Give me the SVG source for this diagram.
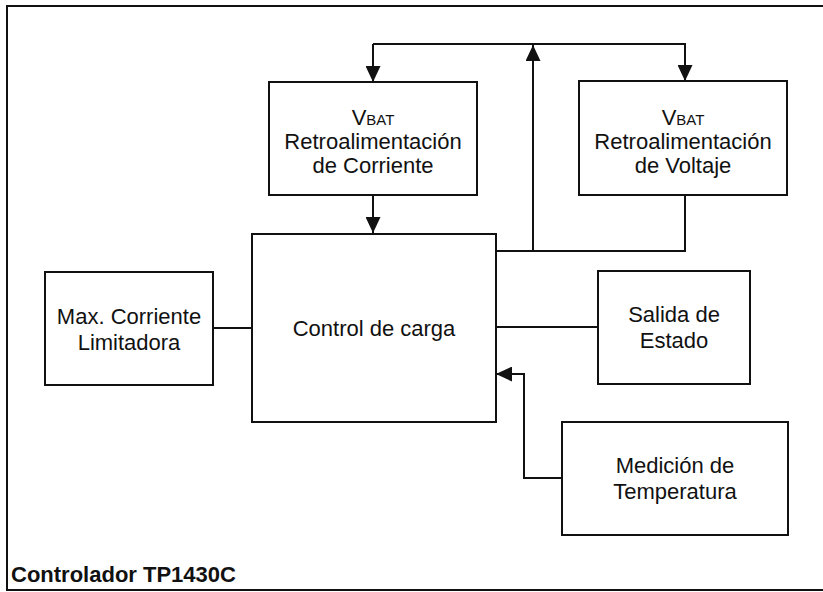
<svg xmlns="http://www.w3.org/2000/svg" width="823" height="592" viewBox="0 0 823 592">
  <style>
    .box { fill: #ffffff; stroke: #111111; stroke-width: 2; }
    .wire { fill: none; stroke: #111111; stroke-width: 2; }
    .lbl { font-family: "Liberation Sans", Arial, sans-serif; font-size: 22px; fill: #111111; text-anchor: middle; }
    .sc { font-size: 15px; }
    .title { font-family: "Liberation Sans", Arial, sans-serif; font-size: 22px; font-weight: bold; fill: #111111; }
  </style>
  <defs>
    <marker id="arrowLg" viewBox="0 0 10 10" refX="10" refY="5" markerWidth="16" markerHeight="15" markerUnits="userSpaceOnUse" orient="auto" preserveAspectRatio="none">
      <path d="M0,0 L10,5 L0,10 z" fill="#111111"/>
    </marker>
  </defs>

  <rect x="0" y="0" width="823" height="592" fill="#ffffff"/>

  <!-- outer frame (right edge runs past the canvas) -->
  <g id="frame">
    <rect x="7" y="6" width="830" height="584" class="wire" stroke-width="2.5"/>
    <text class="title" x="11" y="582">Controlador TP1430C</text>
  </g>

  <!-- connectors -->
  <g id="connectors">
    <!-- feedback bus from charge control to both feedback blocks -->
    <polyline class="wire" points="496,251 685,251 685,195"/>
    <line class="wire" x1="533" y1="251" x2="533" y2="45" marker-end="url(#arrowLg)"/>
    <polyline class="wire" points="373,44 685,44 685,81" marker-end="url(#arrowLg)"/>
    <line class="wire" x1="373" y1="44" x2="373" y2="82" marker-end="url(#arrowLg)"/>
    <!-- current feedback into charge control -->
    <line class="wire" x1="373" y1="195" x2="373" y2="233" marker-end="url(#arrowLg)"/>
    <!-- current limit -->
    <line class="wire" x1="213" y1="328" x2="252" y2="328"/>
    <!-- status output -->
    <line class="wire" x1="496" y1="327" x2="598" y2="327"/>
    <!-- temperature measurement -->
    <polyline class="wire" points="562,478 524,478 524,374 496,374" marker-end="url(#arrowLg)"/>
  </g>

  <g id="vbat-corriente">
    <rect class="box" x="269" y="82" width="208" height="113"/>
    <text class="lbl" x="373" y="125">V<tspan class="sc">BAT</tspan></text>
    <text class="lbl" x="373" y="149">Retroalimentación</text>
    <text class="lbl" x="373" y="173">de Corriente</text>
  </g>

  <g id="vbat-voltaje">
    <rect class="box" x="579" y="81" width="208" height="114"/>
    <text class="lbl" x="683" y="125">V<tspan class="sc">BAT</tspan></text>
    <text class="lbl" x="683" y="149">Retroalimentación</text>
    <text class="lbl" x="683" y="173">de Voltaje</text>
  </g>

  <g id="control-carga">
    <rect class="box" x="252" y="234" width="244" height="188"/>
    <text class="lbl" x="374" y="336">Control de carga</text>
  </g>

  <g id="max-corriente">
    <rect class="box" x="45" y="272" width="168" height="113"/>
    <text class="lbl" x="129" y="324">Max. Corriente</text>
    <text class="lbl" x="129" y="350">Limitadora</text>
  </g>

  <g id="salida-estado">
    <rect class="box" x="598" y="271" width="152" height="113"/>
    <text class="lbl" x="674" y="322">Salida de</text>
    <text class="lbl" x="674" y="348">Estado</text>
  </g>

  <g id="medicion-temperatura">
    <rect class="box" x="562" y="422" width="226" height="113"/>
    <text class="lbl" x="675" y="473">Medición de</text>
    <text class="lbl" x="675" y="499">Temperatura</text>
  </g>
</svg>
